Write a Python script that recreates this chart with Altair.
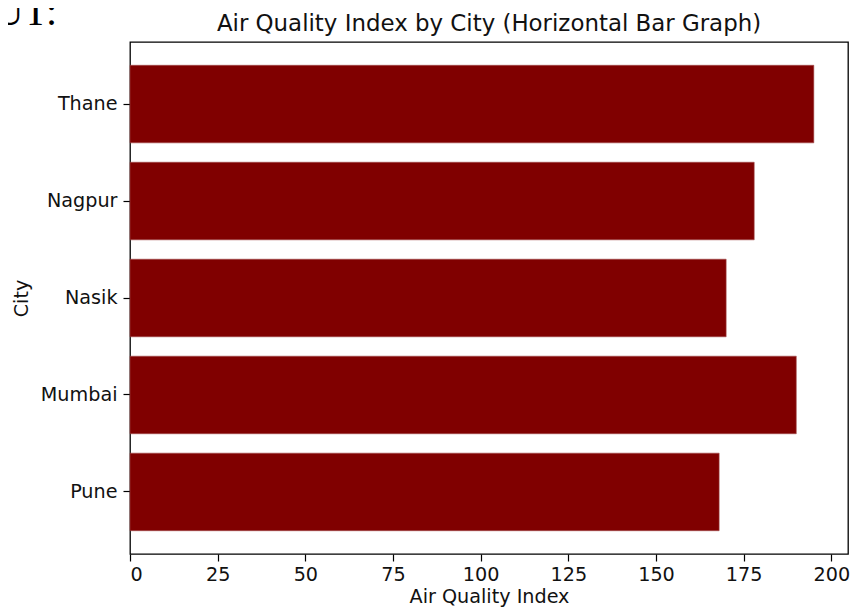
import altair as alt
import pandas as pd

cities = ["Pune", "Mumbai", "Nasik", "Nagpur", "Thane"]
aqi = [168, 190, 170, 178, 195]
x_ticks = [0, 25, 50, 75, 100, 125, 150, 175, 200]
title_text = "Air Quality Index by City (Horizontal Bar Graph)"
note_text = "OUTPUT:"

df = pd.DataFrame({"City": cities, "AQI": aqi})

FONT = "DejaVu Sans"
FS = 19.2
W, H = 718, 512

bars = alt.Chart(df).mark_bar(color="#800000", stroke="#a04848", strokeWidth=0.6).encode(
    x=alt.X("AQI:Q",
            scale=alt.Scale(domain=[0, 204.75], nice=False, zero=True),
            axis=alt.Axis(values=x_ticks, title="Air Quality Index", grid=False,
                          domain=False, tickSize=7, tickColor="#000", tickWidth=1.2,
                          labelPadding=4, labelFontSize=FS, labelColor="#111",
                          titleFontSize=FS, titleFontWeight="normal", titleColor="#111",
                          titlePadding=3, labelFont=FONT, titleFont=FONT)),
    y=alt.Y("City:N", sort=list(reversed(cities)),
            scale=alt.Scale(paddingInner=0.2, paddingOuter=0.24),
            axis=alt.Axis(title="City", grid=False, domain=False, tickSize=7,
                          tickColor="#000", tickWidth=1.2, labelPadding=6,
                          labelFontSize=FS, labelColor="#111", titleFontSize=FS,
                          titleFontWeight="normal", titleColor="#111", titlePadding=9,
                          labelFont=FONT, titleFont=FONT)),
)

title = alt.Chart(pd.DataFrame({"t": [title_text]})).mark_text(
    font=FONT, fontSize=22.9, align="center", baseline="alphabetic", color="#111"
).encode(text="t:N", x=alt.value(W / 2), y=alt.value(-11))

note = alt.Chart(pd.DataFrame({"t": [note_text]})).mark_text(
    font="Liberation Serif", fontSize=40, align="right", baseline="alphabetic", color="#000"
).encode(text="t:N", x=alt.value(-73), y=alt.value(-17))

chart = alt.layer(bars, title, note).properties(
    width=W, height=H,
    autosize=alt.AutoSizeParams(type="none"),
    padding={"left": 122, "top": 34, "right": 3, "bottom": 53},
).configure(background="white").configure_view(stroke="#000", strokeWidth=1.3)

chart.save("out.html", embed_options={"renderer": "svg", "actions": False})
